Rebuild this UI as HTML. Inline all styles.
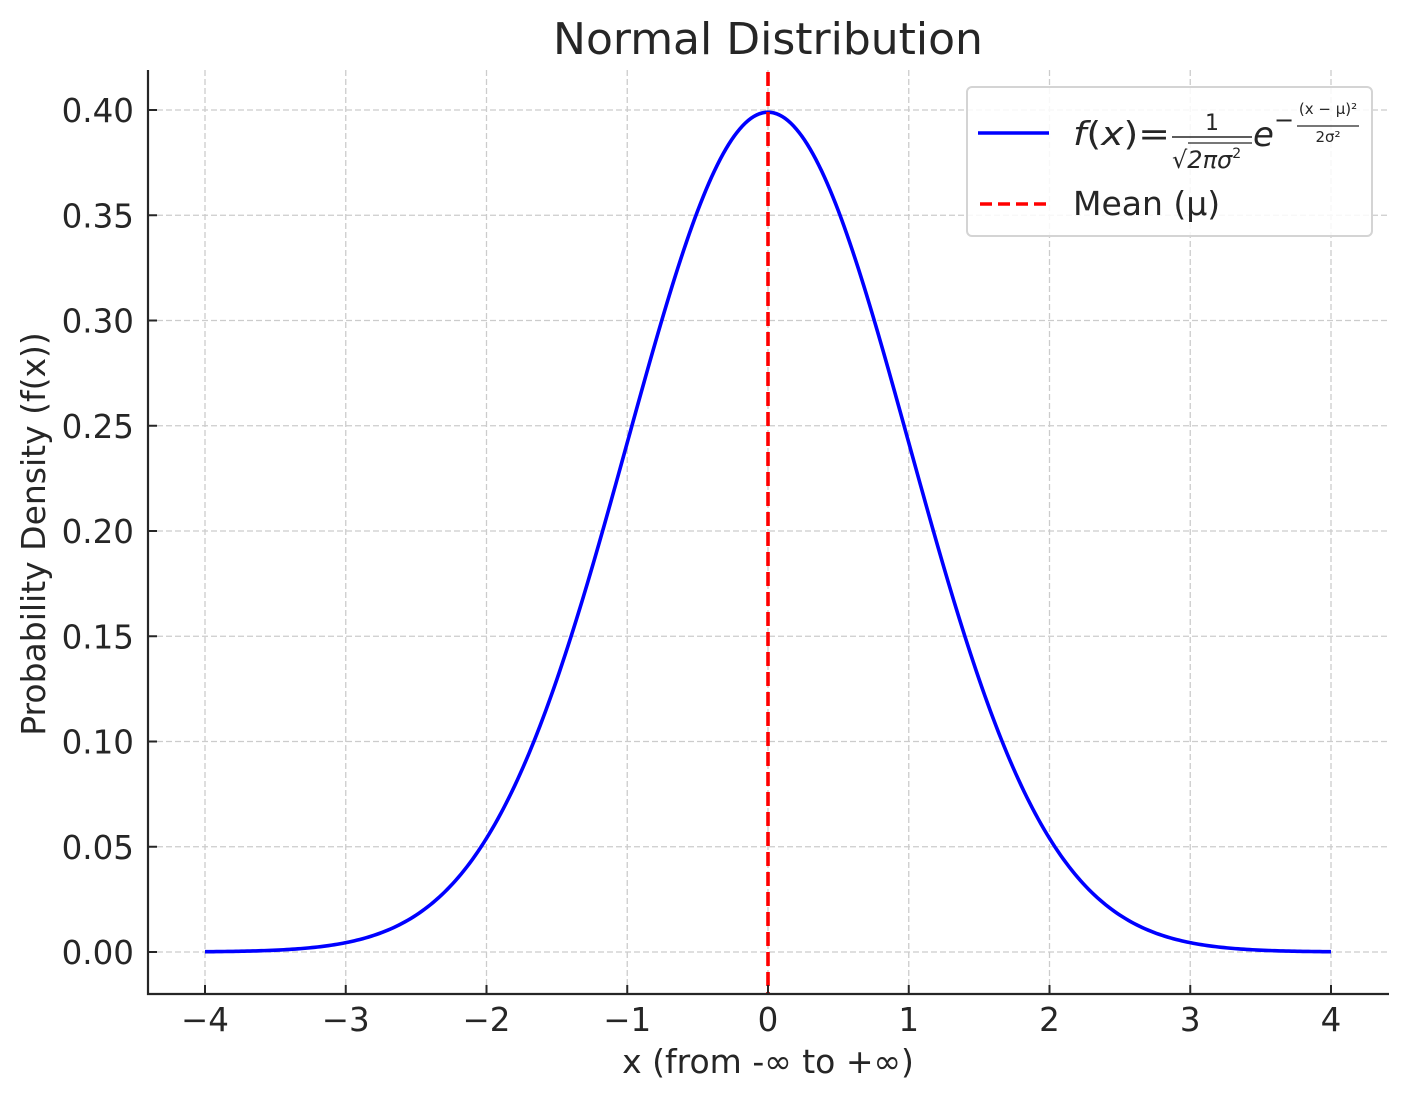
<!DOCTYPE html>
<html><head><meta charset="utf-8"><style>
body{margin:0;background:#fff}
svg text{font-family:"DejaVu Sans","Liberation Sans",sans-serif;fill:#262626}
</style></head><body>
<svg id="s" width="1408" height="1101" xmlns="http://www.w3.org/2000/svg">
<rect width="1408" height="1101" fill="#fff"/>
<g id="grid" stroke="#cccccc" stroke-width="1.3" stroke-dasharray="6,3"></g>
<path id="curve" fill="none" stroke="#0000ff" stroke-width="3.6"/>
<line x1="768" y1="72" x2="768" y2="994" stroke="#ff0000" stroke-width="3.6" stroke-dasharray="14,6"/>
<g id="ticks" stroke="#262626" stroke-width="2"></g>
<path d="M148,70 L148,994 L1389,994" fill="none" stroke="#262626" stroke-width="2.2"/>
<g id="labels" font-size="32.5"></g>
<text x="768" y="54" font-size="44" text-anchor="middle">Normal Distribution</text>
<text x="768" y="1073" font-size="33" text-anchor="middle">x (from -∞ to +∞)</text>
<text transform="translate(45,534) rotate(-90)" font-size="33" text-anchor="middle">Probability Density (f(x))</text>
<rect x="967" y="87" width="405" height="149" rx="5" fill="#fff" fill-opacity="0.85" stroke="#d4d4d4" stroke-width="2"/>
<line x1="978" y1="133" x2="1049" y2="133" stroke="#0000ff" stroke-width="3.6"/>
<line x1="980" y1="204" x2="1047" y2="204" stroke="#ff0000" stroke-width="3.6" stroke-dasharray="12,6"/>
<text x="1073" y="145" font-size="33" font-style="italic" textLength="97" lengthAdjust="spacingAndGlyphs">f<tspan font-style="normal">(</tspan>x<tspan font-style="normal">)=</tspan></text>
<text x="1212" y="130" font-size="22" text-anchor="middle">1</text>
<line x1="1172" y1="137" x2="1252" y2="137" stroke="#262626" stroke-width="1.6"/>
<text x="1172" y="168" font-size="24">√<tspan font-style="italic">2πσ</tspan><tspan font-size="14" dy="-10">2</tspan></text>
<line x1="1188" y1="143" x2="1252" y2="143" stroke="#262626" stroke-width="1.2"/>
<text x="1253" y="146" font-size="34" font-style="italic">e</text>
<text x="1274" y="128" font-size="24">−</text>
<text x="1328" y="114" font-size="15" text-anchor="middle">(x − μ)²</text>
<line x1="1297" y1="126" x2="1359" y2="126" stroke="#262626" stroke-width="1.2"/>
<text x="1328" y="142" font-size="15" text-anchor="middle">2σ²</text>
<text x="1073" y="215" font-size="33">Mean (μ)</text>
</svg>
<script>
var ns="http://www.w3.org/2000/svg";
function X(v){return 768+v*140.75}
function Y(v){return 952-v*2105}
function el(p,t,a,txt){var e=document.createElementNS(ns,t);for(var k in a)e.setAttribute(k,a[k]);if(txt!=null)e.textContent=txt;document.getElementById(p).appendChild(e);}
for(var i=-4;i<=4;i++){var x=X(i);el("grid","line",{x1:x,y1:70,x2:x,y2:994});el("ticks","line",{x1:x,y1:994,x2:x,y2:985});
el("labels","text",{x:x,y:1031,"text-anchor":"middle"},(i<0?"−":"")+Math.abs(i));}
for(var j=0;j<=8;j++){var v=j*0.05,y=Y(v);el("grid","line",{x1:148,y1:y,x2:1389,y2:y});el("ticks","line",{x1:148,y1:y,x2:157,y2:y});
el("labels","text",{x:134,y:y+12,"text-anchor":"end"},v.toFixed(2));}
var d="";for(var k=0;k<=400;k++){var xv=-4+k*0.02;var f=Math.exp(-xv*xv/2)/Math.sqrt(2*Math.PI);d+=(k?"L":"M")+X(xv).toFixed(2)+","+Y(f).toFixed(2);}
document.getElementById("curve").setAttribute("d",d);
</script>
</body></html>
